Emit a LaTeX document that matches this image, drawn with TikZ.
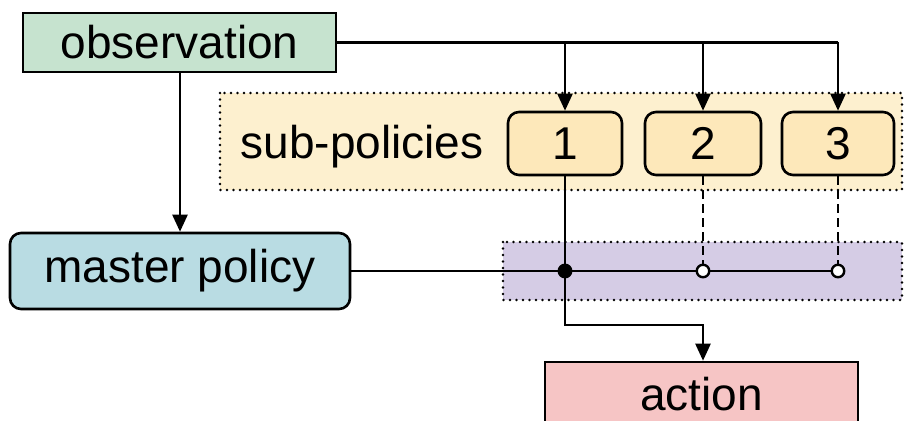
\documentclass[tikz,border=0pt]{standalone}
\usepackage{fontspec}
\setmainfont{Liberation Sans}
\usetikzlibrary{arrows.meta}
\definecolor{obsgreen}{HTML}{C6E3CF}
\definecolor{subyellow}{HTML}{FDF0CF}
\definecolor{boxyellow}{HTML}{FDE8BA}
\definecolor{masterblue}{HTML}{B9DCE3}
\definecolor{gatepurple}{HTML}{D5CCE5}
\definecolor{actpink}{HTML}{F6C5C5}
\tikzset{
  lbl/.style={font=\fontsize{46}{54}\selectfont, text=black},
  sqbox/.style={lbl, draw=black, line width=2.6pt, inner sep=0pt},
  rbox/.style={sqbox, rounded corners=11pt},
  region/.style={draw=black, line width=2.8pt, dash pattern=on 0pt off 6.5pt, line cap=round},
  wire/.style={draw=black, line width=2.4pt},
  tip/.style={wire, -{Triangle[length=17pt, width=15pt]}},
  hub/.style={circle, draw=black, line width=2.4pt, inner sep=0pt, minimum size=12.5pt},
}
\begin{document}
\begin{tikzpicture}[x=1pt, y=-1pt]
  \useasboundingbox (0,0) rectangle (904,420);
  \fill[white] (0,0) rectangle (904,420);

  % background groups
  \path[region, fill=subyellow] (220,93) rectangle (902,190);
  \path[region, fill=gatepurple] (503,242) rectangle (902,300);

  % nodes
  \node[sqbox, fill=obsgreen, minimum width=313pt, minimum height=59pt] (obs) at (179.5,42.5) {observation};
  \node[lbl] (sublbl) at (362,147) {sub-policies};
  \node[rbox, fill=boxyellow, minimum width=114pt, minimum height=63pt] (p1) at (565,143.5) {1};
  \node[rbox, fill=boxyellow, minimum width=116pt, minimum height=63pt] (p2) at (703,143.5) {2};
  \node[rbox, fill=boxyellow, minimum width=112pt, minimum height=63pt] (p3) at (838,143.5) {3};
  \node[rbox, fill=masterblue, minimum width=340pt, minimum height=76pt] (master) at (180,271) {master policy};
  \node[sqbox, fill=actpink, minimum width=313pt, minimum height=64pt] (act) at (701.5,394) {action};

  % switch hubs on the selector line
  \node[hub, fill=black] (h1) at (565,271) {};
  \node[hub, fill=white] (h2) at (703,271) {};
  \node[hub, fill=white] (h3) at (838,271) {};
  \coordinate (bend) at (565,325);
  \coordinate (corner) at (703,325);

  % observation fan-out
  \draw[wire] (obs.east) -- (obs.east -| p3);
  \draw[tip] (obs.east -| p1) -- (p1.north);
  \draw[tip] (obs.east -| p2) -- (p2.north);
  \draw[tip] (obs.east -| p3) -- (p3.north);
  \draw[tip] (obs.south -| master) -- (master.north);

  % selector line
  \draw[wire] (master.east) -- (h1) -- (h2) -- (h3);
  \draw[wire, dash pattern=on 9pt off 5pt] (p2.south) -- (h2.north);
  \draw[wire, dash pattern=on 9pt off 5pt] (p3.south) -- (h3.north);

  % active sub-policy to action
  \draw[wire] (p1.south) -- (h1);
  \draw[tip] (h1) -- (bend) -- (corner) -- (act.north -| corner);
\end{tikzpicture}
\end{document}
